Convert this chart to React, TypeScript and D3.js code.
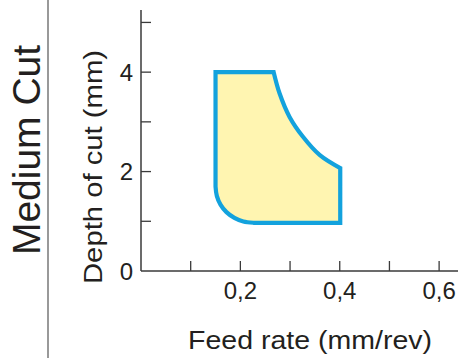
import React from "react";
import * as d3 from "d3";

// ---- Data ----
const xTickValues = [0.1, 0.2, 0.3, 0.4, 0.5, 0.6];
const xTickLabels = ["", "0,2", "", "0,4", "", "0,6"];
const yTickValues = [0, 1, 2, 3, 4, 5];
const yTickLabels = ["0", "", "2", "", "4", ""];

// outline of the recommended region (feed mm/rev, depth mm)
const topEdge: [number, number][] = [[0.15, 4.0], [0.267, 4.0]];
const upperCurve: [number, number][] = [
  [0.267, 4.0], [0.279, 3.57], [0.299, 3.1], [0.326, 2.7], [0.36, 2.33], [0.401, 2.07],
];
const rightEdge: [number, number][] = [[0.401, 2.07], [0.401, 0.97]];
const bottomEdge: [number, number][] = [[0.401, 0.97], [0.226, 0.97]];
const cornerCurve: [number, number][] = [
  [0.226, 0.97], [0.206, 0.995], [0.188, 1.068], [0.172, 1.184], [0.16, 1.335], [0.1526, 1.511], [0.15, 1.7],
];
const leftEdge: [number, number][] = [[0.15, 1.7], [0.15, 4.0]];

const title = "Medium Cut";
const xLabel = "Feed rate (mm/rev)";
const yLabel = "Depth of cut (mm)";

// ---- Layout ----
const W = 464, H = 358;
const x0 = 141, y0 = 271;
const x = d3.scaleLinear().domain([0, 0.638]).range([x0, 458]);
const y = d3.scaleLinear().domain([0, 5.25]).range([y0, 10]);

const font = "'Liberation Sans', Arial, Helvetica, sans-serif";
const textColor = "#231f20";
const axisColor = "#3a3a3a";

function buildPath(): string {
  const straight = d3.line<[number, number]>().x(d => x(d[0])).y(d => y(d[1]));
  const curved = d3.line<[number, number]>().x(d => x(d[0])).y(d => y(d[1])).curve(d3.curveCatmullRom.alpha(0.5));
  const segs = [
    straight(topEdge)!,
    curved(upperCurve)!,
    straight(rightEdge)!,
    straight(bottomEdge)!,
    curved(cornerCurve)!,
    straight(leftEdge)!,
  ];
  return segs.map((s, i) => (i === 0 ? s : s.replace(/^M/, "L"))).join("") + "Z";
}

export default function App() {
  const d = buildPath();
  return (
    <svg width={W} height={H} style={{ position: "absolute", left: 0, top: 0, background: "#fff" }}>
      {/* divider */}
      <line x1={48} y1={0} x2={48} y2={H} stroke="#555" strokeWidth={1.2} />
      <text
        transform={`translate(40,150) rotate(-90)`}
        textAnchor="middle"
        fontFamily={font}
        fontSize={39}
        fill={textColor}
      >
        {title}
      </text>
      <text
        transform={`translate(101.5,167) rotate(-90)`}
        textAnchor="middle"
        fontFamily={font}
        fontSize={25}
        fill={textColor}
        textLength={234}
        lengthAdjust="spacingAndGlyphs"
      >
        {yLabel}
      </text>

      {/* region */}
      <path d={d} fill="#fff5b1" stroke="#13a2dd" strokeWidth={4.2} strokeLinejoin="miter" />

      {/* axes */}
      <line x1={x0} y1={10} x2={x0} y2={y0} stroke={axisColor} strokeWidth={1.5} />
      <line x1={x0} y1={y0} x2={458} y2={y0} stroke={axisColor} strokeWidth={1.5} />
      {yTickValues.map((v, i) => (
        <g key={"y" + v}>
          {v > 0 && <line x1={x0} x2={x0 + 10} y1={y(v)} y2={y(v)} stroke={axisColor} strokeWidth={1.3} />}
          {yTickLabels[i] && (
            <text x={133} y={y(v)} dy="0.36em" textAnchor="end" fontFamily={font} fontSize={24} fill={textColor}>
              {yTickLabels[i]}
            </text>
          )}
        </g>
      ))}
      {xTickValues.map((v, i) => (
        <g key={"x" + v}>
          <line x1={x(v)} x2={x(v)} y1={y0} y2={y0 - 10} stroke={axisColor} strokeWidth={1.3} />
          {xTickLabels[i] && (
            <text x={x(v)} y={299} textAnchor="middle" fontFamily={font} fontSize={24} fill={textColor}>
              {xTickLabels[i]}
            </text>
          )}
        </g>
      ))}
      <text
        x={310}
        y={349}
        textAnchor="middle"
        fontFamily={font}
        fontSize={25}
        fill={textColor}
        textLength={244}
        lengthAdjust="spacingAndGlyphs"
      >
        {xLabel}
      </text>
    </svg>
  );
}
